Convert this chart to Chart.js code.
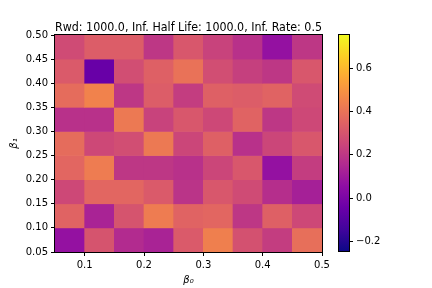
<!DOCTYPE html>
<html>
<head>
<meta charset="utf-8">
<script src="https://cdn.jsdelivr.net/npm/chart.js@4/dist/chart.umd.min.js"></script>
<style>
  body { margin: 0; background: #fff; }
  #wrap { position: relative; width: 432px; height: 288px; }
  canvas { position: absolute; top: 0; }
</style>
</head>
<body>
<div id="wrap">
  <canvas id="heat" width="432" height="288" style="left:0"></canvas>
  <canvas id="cbar" width="102" height="288" style="left:330px"></canvas>
</div>
<script>
// cell edges on both axes
const beta0Edges = [0.05, 0.10, 0.15, 0.20, 0.25, 0.30, 0.35, 0.40, 0.45, 0.50];
const beta1Edges = [0.05, 0.10, 0.15, 0.20, 0.25, 0.30, 0.35, 0.40, 0.45, 0.50];

// one row per beta1 band, bottom (0.05) to top (0.45)
const cellValues = [
  [0.07, 0.30, 0.16, 0.13, 0.32, 0.44, 0.29, 0.22, 0.39],
  [0.35, 0.13, 0.30, 0.43, 0.35, 0.36, 0.20, 0.34, 0.26],
  [0.26, 0.36, 0.36, 0.32, 0.19, 0.31, 0.27, 0.17, 0.12],
  [0.36, 0.43, 0.20, 0.20, 0.18, 0.25, 0.31, 0.07, 0.22],
  [0.38, 0.26, 0.28, 0.42, 0.25, 0.34, 0.18, 0.25, 0.31],
  [0.18, 0.18, 0.42, 0.24, 0.31, 0.26, 0.35, 0.20, 0.26],
  [0.38, 0.45, 0.20, 0.33, 0.22, 0.34, 0.33, 0.35, 0.27],
  [0.32, -0.05, 0.28, 0.34, 0.40, 0.28, 0.23, 0.20, 0.31],
  [0.27, 0.33, 0.33, 0.20, 0.31, 0.24, 0.18, 0.07, 0.20]
];

const xTicks = [0.1, 0.2, 0.3, 0.4, 0.5];
const yTicks = [0.05, 0.10, 0.15, 0.20, 0.25, 0.30, 0.35, 0.40, 0.45, 0.50];
const cbarTicks = [-0.2, 0.0, 0.2, 0.4, 0.6];
const vmin = -0.245;
const vmax = 0.755;

const titleText = 'Rwd: 1000.0, Inf. Half Life: 1000.0, Inf. Rate: 0.5';

// plasma colormap stops
const plasmaStops = ['#0d0887', '#41049d', '#6a00a8', '#8f0da4', '#b12a90', '#cc4778',
  '#e16462', '#f2844b', '#fca636', '#fcce25', '#f0f921'];

function hexRgb(h) {
  return [1, 3, 5].map(i => parseInt(h.slice(i, i + 2), 16));
}

function plasma(t) {
  t = Math.min(1, Math.max(0, t));
  const p = t * (plasmaStops.length - 1);
  const i = Math.min(Math.floor(p), plasmaStops.length - 2);
  const f = p - i;
  const a = hexRgb(plasmaStops[i]), b = hexRgb(plasmaStops[i + 1]);
  const c = a.map((v, k) => Math.round(v + (b[k] - v) * f));
  return 'rgb(' + c.join(',') + ')';
}

const cells = [];
const cellColors = [];
cellValues.forEach((row, j) => {
  row.forEach((v, i) => {
    cells.push({ x: (beta0Edges[i] + beta0Edges[i + 1]) / 2, y: [beta1Edges[j], beta1Edges[j + 1]] });
    cellColors.push(plasma((v - vmin) / (vmax - vmin)));
  });
});

Chart.defaults.font.family = 'DejaVu Sans';
Chart.defaults.font.size = 10;
Chart.defaults.color = '#000';

// black box round the plot area, like the matplotlib spines
const frame = {
  id: 'frame',
  afterDatasetsDraw(chart) {
    const { ctx, chartArea: a } = chart;
    ctx.save();
    ctx.strokeStyle = '#000';
    ctx.lineWidth = 1;
    ctx.strokeRect(Math.round(a.left) - 0.5, Math.round(a.top) - 0.5,
      Math.round(a.right - a.left) + 1, Math.round(a.bottom - a.top) + 1);
    ctx.restore();
  }
};

const tickGrid = { display: true, drawOnChartArea: false, drawTicks: true, tickLength: 4, color: '#000', offset: false };

new Chart(document.getElementById('heat'), {
  type: 'bar',
  data: {
    datasets: [{
      data: cells,
      backgroundColor: cellColors,
      borderWidth: 0,
      categoryPercentage: 1,
      barPercentage: 1
    }]
  },
  options: {
    responsive: false,
    animation: false,
    devicePixelRatio: 1,
    layout: { padding: { left: 0, right: 110, top: 14, bottom: 0 } },
    plugins: {
      legend: { display: false },
      tooltip: { enabled: false },
      title: {
        display: true,
        text: titleText,
        fullSize: false,
        color: '#000',
        font: { size: 12, weight: 'normal' },
        padding: { top: 7, bottom: -0.4 }
      }
    },
    scales: {
      x: {
        type: 'linear',
        min: 0.05,
        max: 0.5,
        offset: false,
        afterBuildTicks: s => { s.ticks = xTicks.map(v => ({ value: v })); },
        afterFit: s => { s.height = 36; },
        ticks: { callback: v => v.toFixed(1), padding: 3, maxRotation: 0, autoSkip: false },
        grid: tickGrid,
        border: { display: false },
        title: { display: true, text: 'β₀', font: { size: 10, style: 'italic' }, padding: { top: 0, bottom: 2 } }
      },
      y: {
        type: 'linear',
        min: 0.05,
        max: 0.5,
        afterBuildTicks: s => { s.ticks = yTicks.map(v => ({ value: v })); },
        afterFit: s => { s.width = 55; },
        ticks: { callback: v => v.toFixed(2), padding: 3, autoSkip: false },
        grid: tickGrid,
        border: { display: false },
        title: { display: true, text: 'β₁', font: { size: 10, style: 'italic' }, padding: { top: 8, bottom: 0 } }
      }
    }
  },
  plugins: [frame]
});

// colour bar
new Chart(document.getElementById('cbar'), {
  type: 'bar',
  data: {
    labels: [''],
    datasets: [{
      data: [[vmin, vmax]],
      backgroundColor: c => {
        const a = c.chart.chartArea;
        if (!a) return null;
        const g = c.chart.ctx.createLinearGradient(0, a.bottom, 0, a.top);
        plasmaStops.forEach((col, i) => g.addColorStop(i / (plasmaStops.length - 1), col));
        return g;
      },
      borderWidth: 0,
      categoryPercentage: 1,
      barPercentage: 1
    }]
  },
  options: {
    responsive: false,
    animation: false,
    devicePixelRatio: 1,
    layout: { padding: { left: 9, right: 0, top: 35, bottom: 37 } },
    plugins: { legend: { display: false }, tooltip: { enabled: false } },
    scales: {
      x: { display: false },
      y: {
        position: 'right',
        min: vmin,
        max: vmax,
        afterBuildTicks: s => { s.ticks = cbarTicks.map(v => ({ value: v })); },
        afterFit: s => { s.width = 83; },
        ticks: { callback: v => (v < 0 ? '\u2212' : '') + Math.abs(v).toFixed(1), padding: 3, autoSkip: false },
        grid: tickGrid,
        border: { display: false }
      }
    }
  },
  plugins: [frame]
});
</script>
</body>
</html>
